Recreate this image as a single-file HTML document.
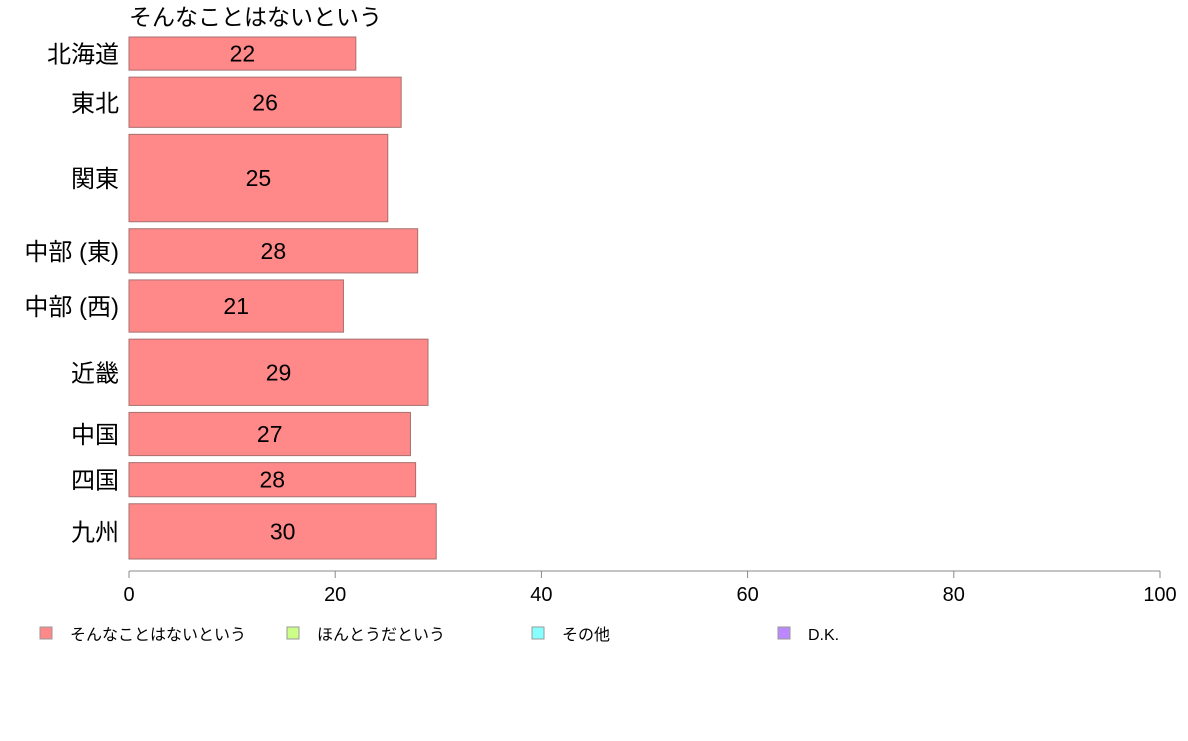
<!DOCTYPE html>
<html><head><meta charset="utf-8">
<style>
html,body{margin:0;padding:0;background:#fff;}
svg text{font-family:"Liberation Sans","Noto Sans CJK JP",sans-serif;}
</style></head>
<body>
<svg id="chart" width="1188" height="736" xmlns="http://www.w3.org/2000/svg">
<text x="129" y="25" font-size="23" fill="#000">そんなことはないという</text>
<g id="bars"></g>
<g id="axis"></g>
<g id="legend"></g>
</svg>
<script>
const categories = ["北海道","東北","関東","中部 (東)","中部 (西)","近畿","中国","四国","九州"];
const values = [22.0, 26.4, 25.1, 28.0, 20.8, 29.0, 27.3, 27.8, 29.8];
const weights = [33, 50, 87, 44, 52, 66, 43, 34, 55];
const ticks = [0, 20, 40, 60, 80, 100];
const legendLabels = ["そんなことはないという","ほんとうだという","その他","D.K."];
const legendColors = ["#FF8888","#CCFF88","#88FFFF","#BB88FF"];

const NS = "http://www.w3.org/2000/svg";
const x0 = 129, x1 = 1160, yTop = 37, yBottom = 559, gap = 7;
function xs(v){ return x0 + (v/100)*(x1-x0); }
function mk(tag, attrs, parent){ const e=document.createElementNS(NS,tag); for(const k in attrs) e.setAttribute(k,attrs[k]); parent.appendChild(e); return e; }

const bars = document.getElementById("bars");
const totalW = weights.reduce((a,b)=>a+b,0);
const avail = (yBottom-yTop) - gap*(categories.length-1);
let yy = yTop;
categories.forEach((c,i)=>{
  const h = weights[i]/totalW*avail;
  const r = mk("rect",{x:x0,y:yy,width:xs(values[i])-x0,height:h,fill:"#FF8888",stroke:"#a87070","stroke-width":1},bars);
  
  
  const t = mk("text",{x:(x0+xs(values[i]))/2,y:yy+h/2+8,"font-size":23,"text-anchor":"middle",fill:"#000"},bars);
  t.textContent = Math.round(values[i]);
  
  
  const l = mk("text",{x:119,y:yy+h/2+9,"font-size":24,"text-anchor":"end",fill:"#000"},bars);
  l.textContent = c;
  
  
  yy += h + gap;
});

const axis = document.getElementById("axis");
const al = mk("line",{x1:x0,x2:x1,y1:571,y2:571,stroke:"#888","stroke-width":1},axis);


ticks.forEach(t=>{
  const tl = mk("line",{x1:xs(t),x2:xs(t),y1:571,y2:578,stroke:"#888","stroke-width":1},axis);
  
  
  const tt = mk("text",{x:xs(t),y:601,"font-size":20,"text-anchor":"middle",fill:"#000"},axis);
  tt.textContent = t;
  
  
});

const legend = document.getElementById("legend");
const lx = [40, 287, 532, 778];
legendLabels.forEach((s,i)=>{
  const r = mk("rect",{x:lx[i],y:627,width:12,height:12,fill:legendColors[i],stroke:"#999","stroke-width":1},legend);
  
  
  const t = mk("text",{x:lx[i]+30,y:640,"font-size":16,fill:"#000"},legend);
  t.textContent = s;
  
  
});
</script>
</body></html>
